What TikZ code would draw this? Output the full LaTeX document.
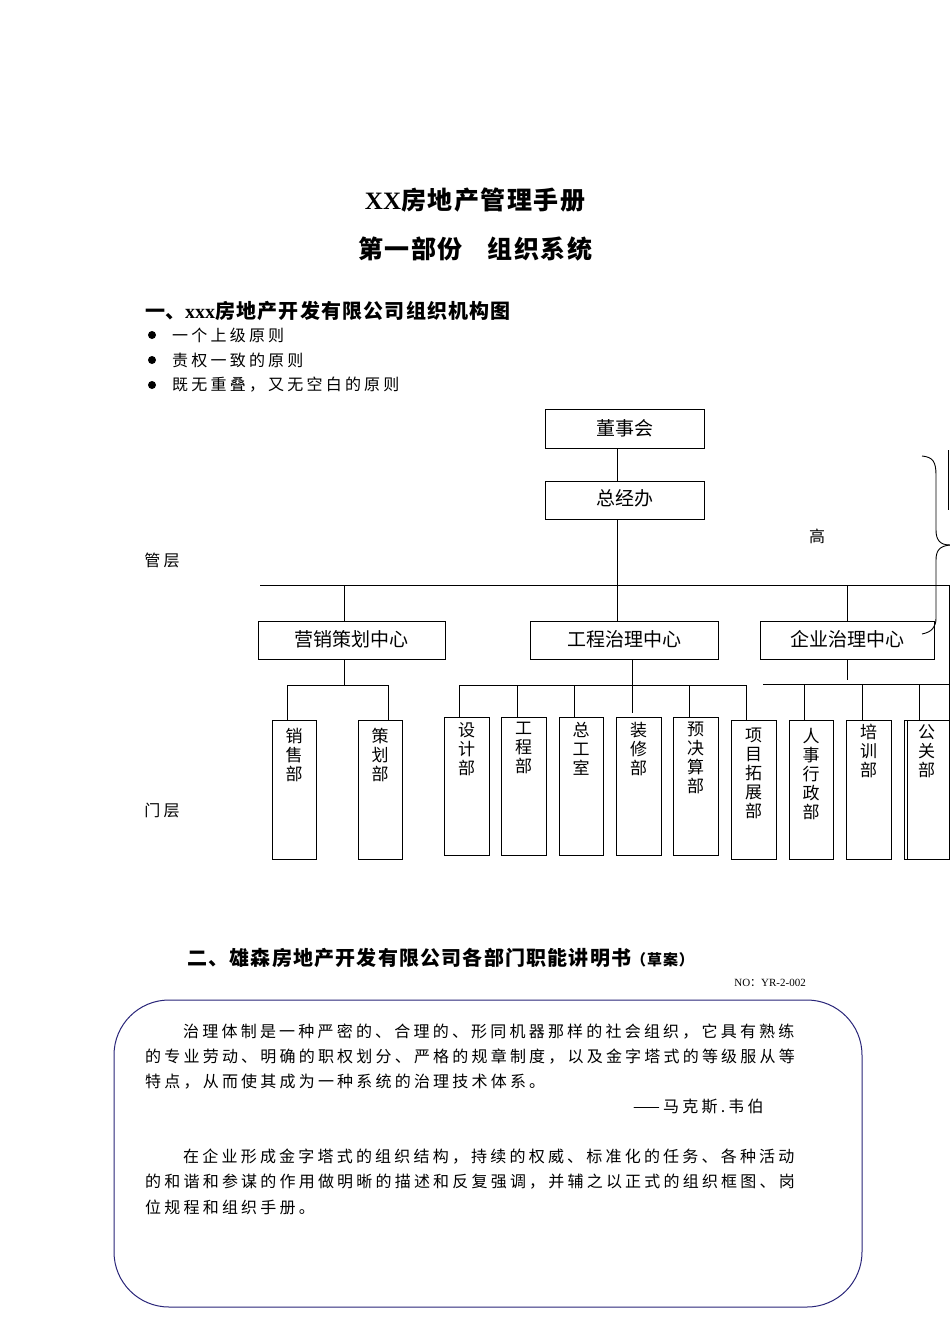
\documentclass[tikz,border=0pt]{standalone}
\usepackage{fontspec}
\setmainfont{Liberation Serif}
\newfontfamily\cjk{Noto Sans CJK SC}
\newfontfamily\cjkw[LetterSpace=20]{Noto Sans CJK SC}
\newfontfamily\cjkh[LetterSpace=6]{Noto Sans CJK SC}
\begin{document}
\begin{tikzpicture}[x=1pt,y=-1pt,
  box/.style={draw,line width=1pt,inner sep=0pt},
  ln/.style={line width=0.9pt},
  vt/.style={anchor=north,align=center,font=\cjk\fontsize{17}{19}\selectfont,inner sep=0pt},
  ct/.style={font=\cjk\fontsize{19}{22}\selectfont},
  body/.style={anchor=west,font=\cjkw\fontsize{16}{18}\selectfont,inner sep=0pt}]
\useasboundingbox (0,0) rectangle (950,1344);
\node (t1) at (475,200) {\bfseries\fontsize{25}{28}\selectfont XX\cjkh 房地产管理手册};
\node (t2) at (475,249) {\cjkh\bfseries\fontsize{25}{28}\selectfont 第一部份\quad 组织系统};
\node[anchor=west,inner sep=0pt] (t3) at (145,311) {\bfseries\fontsize{20}{24}\selectfont{\cjk 一、}xxx\cjkh 房地产开发有限公司组织机构图};
\foreach \y/\s [count=\i] in {335/一个上级原则,360/责权一致的原则,385/既无重叠，又无空白的原则}{
  \fill (152,\y) circle (4);
  \node[body] (b\i) at (172,\y) {\s};}
% top boxes
\draw[box] (545,409) rectangle (704,448); \node[ct] (dsh) at (624.5,428) {董事会};
\draw[box] (545,481) rectangle (704,519); \node[ct] (zjb) at (624.5,498) {总经办};
\draw[ln] (617,448)--(617,481);
\draw[ln] (617,519)--(617,621);
\draw[ln] (260,585)--(949,585)--(949,859);
\node[body,anchor=center] (gao) at (817,536) {高};
\node[body,anchor=center] (gc) at (162,560) {管层};
\node[body,anchor=center] (mc) at (162,810) {门层};
% brace
\draw[ln] (922,456) .. controls (933,457) and (936,462) .. (936,475) -- (936,530) .. controls (936,540) and (940,545) .. (950,545);
\draw[ln] (950,545) .. controls (940,546) and (936,550) .. (936,560) -- (936,618) .. controls (936,627) and (932,632) .. (922,634);
\draw[ln] (948,450)--(948,510);
% centers
\draw[box] (258,621) rectangle (445,659); \node[ct] (yx) at (351.5,639) {营销策划中心};
\draw[box] (530,621) rectangle (718,659); \node[ct] (gczl) at (624,639) {工程治理中心};
\draw[box] (760,621) rectangle (934,659); \node[ct] (qy) at (847,639) {企业治理中心};
\draw[ln] (344,585)--(344,621);
\draw[ln] (847,585)--(847,621);
% marketing
\draw[ln] (344,659)--(344,685);
\draw[ln] (287,720)--(287,685)--(388,685)--(388,720);
\draw[box] (272,720) rectangle (316,859); \node[vt] (xs) at (294,728) {销\\售\\部};
\draw[box] (358,720) rectangle (402,859); \node[vt] (ch) at (380,728) {策\\划\\部};
% engineering
\draw[ln] (632,659)--(632,713);
\draw[ln] (459,717)--(459,685)--(746,685)--(746,720);
\foreach \x in {517,574,689}{\draw[ln] (\x,685)--(\x,717);}
\draw[box] (444,717) rectangle (489,855); \node[vt] (sj) at (466.5,722) {设\\计\\部};
\draw[box] (501,717) rectangle (546,855); \node[vt] (gcb) at (523.5,722) {工\\程\\部};
\draw[box] (559,717) rectangle (603,855); \node[vt] (zgs) at (581,722) {总\\工\\室};
\draw[box] (616,717) rectangle (661,855); \node[vt] (zx) at (638.5,722) {装\\修\\部};
\draw[box] (673,717) rectangle (718,855); \node[vt] (yjs) at (695.5,722) {预\\决\\算\\部};
\draw[box] (731,720) rectangle (776,859); \node[vt] (xm) at (753.5,728) {项\\目\\拓\\展\\部};
% enterprise
\draw[ln] (847,659)--(847,680);
\draw[ln] (763,684)--(949,684);
\foreach \x in {804,862,919}{\draw[ln] (\x,684)--(\x,720);}
\draw[box] (789,720) rectangle (833,859); \node[vt] (rs) at (811,728) {人\\事\\行\\政\\部};
\draw[box] (846,720) rectangle (891,859); \node[vt] (px) at (868.5,724) {培\\训\\部};
\draw[box] (904,720) rectangle (949,859); \draw[ln] (907,720)--(907,859); \node[vt] (gg) at (926.5,724) {公\\关\\部};
% section 2
\node[anchor=west,inner sep=0pt] (s2) at (187,958) {\cjkh\bfseries\fontsize{20}{24}\selectfont 二、雄森房地产开发有限公司各部门职能讲明书{\fontsize{15}{18}\selectfont（草案）}};
\node[anchor=east,inner sep=0pt] (no) at (806,983) {\fontsize{11}{13}\selectfont NO\cjk：\rmfamily YR-2-002};
\draw[color={rgb,255:red,40;green,36;blue,120},line width=1pt,rounded corners=55] (114,1000) rectangle (862,1307);
\node[body] (p1) at (183,1032) {治理体制是一种严密的、合理的、形同机器那样的社会组织，它具有熟练};
\node[body] (p2) at (145,1057) {的专业劳动、明确的职权划分、严格的规章制度，以及金字塔式的等级服从等};
\node[body] (p3) at (145,1082) {特点，从而使其成为一种系统的治理技术体系。};
\node[body] (p4) at (633,1107) {——马克斯.韦伯};
\node[body] (p5) at (183,1157) {在企业形成金字塔式的组织结构，持续的权威、标准化的任务、各种活动};
\node[body] (p6) at (145,1182) {的和谐和参谋的作用做明晰的描述和反复强调，并辅之以正式的组织框图、岗};
\node[body] (p7) at (145,1207) {位规程和组织手册。};
\end{tikzpicture}
\end{document}
